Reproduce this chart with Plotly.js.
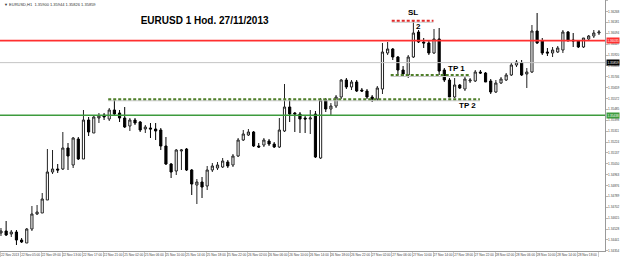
<!DOCTYPE html>
<html><head><meta charset="utf-8">
<script src="https://cdn.plot.ly/plotly-3.0.1.min.js"></script>
<style>html,body{margin:0;padding:0;background:#fff}#chart{width:620px;height:259px}</style>
</head><body><div id="chart"></div>
<script>
// EURUSD H1 candles (22 Nov 2013 - 28 Nov 2013)
const openP = [1.34496,1.34512,1.34488,1.34504,1.34440,1.34416,1.34528,1.34648,1.34656,1.34760,
1.34984,1.35008,1.35008,1.35176,1.35040,1.35248,1.35088,1.35400,1.35296,1.35416,
1.35440,1.35408,1.35480,1.35456,1.35416,1.35352,1.35400,1.35384,1.35328,1.35336,
1.35328,1.35320,1.35192,1.35048,1.34992,1.35152,1.35168,1.35000,1.34880,1.34904,
1.34872,1.35000,1.35016,1.35024,1.35064,1.35040,1.35112,1.35240,1.35280,1.35304,
1.35192,1.35200,1.35232,1.35208,1.35184,1.35312,1.35504,1.35456,1.35448,1.35416,
1.35408,1.35448,1.35096,1.35560,1.35488,1.35512,1.35584,1.35720,1.35664,1.35704,
1.35640,1.35632,1.35584,1.35568,1.35648,1.35936,1.35968,1.35904,1.35800,1.35760,
1.35904,1.36104,1.36024,1.36016,1.35936,1.36048,1.35800,1.35720,1.35584,1.35680,
1.35648,1.35712,1.35712,1.35784,1.35776,1.35712,1.35624,1.35696,1.35720,1.35760,
1.35840,1.35856,1.35768,1.35784,1.36112,1.36032,1.35944,1.35936,1.35944,1.35960,
1.36104,1.36040,1.36032,1.35984,1.36048,1.36072,1.36096];
const highP = [1.34536,1.34592,1.34520,1.34520,1.34456,1.34536,1.34712,1.34720,1.34816,1.35168,
1.35160,1.35048,1.35304,1.35216,1.35264,1.35264,1.35480,1.35424,1.35440,1.35456,
1.35456,1.35496,1.35560,1.35480,1.35504,1.35416,1.35416,1.35392,1.35360,1.35376,
1.35376,1.35336,1.35264,1.35056,1.35168,1.35168,1.35176,1.35008,1.34928,1.34944,
1.35032,1.35056,1.35064,1.35096,1.35080,1.35128,1.35256,1.35320,1.35328,1.35312,
1.35216,1.35256,1.35248,1.35224,1.35416,1.35688,1.35576,1.35464,1.35464,1.35432,
1.35480,1.35472,1.35576,1.35576,1.35536,1.35600,1.35728,1.35736,1.35720,1.35720,
1.35656,1.35648,1.35600,1.35672,1.36016,1.36024,1.35976,1.35912,1.35832,1.35920,
1.36192,1.36120,1.36056,1.36040,1.36128,1.36136,1.35816,1.35736,1.35736,1.35688,
1.35744,1.35736,1.35800,1.35800,1.35784,1.35728,1.35720,1.35744,1.35776,1.35856,
1.35880,1.35880,1.35816,1.36160,1.36256,1.36056,1.35976,1.35984,1.35992,1.36120,
1.36112,1.36096,1.36040,1.36056,1.36080,1.36120,1.36120];
const lowP = [1.34472,1.34472,1.34464,1.34400,1.34416,1.34416,1.34512,1.34640,1.34656,1.34760,
1.34968,1.34976,1.35000,1.35000,1.35016,1.35080,1.35088,1.35272,1.35296,1.35376,
1.35400,1.35392,1.35440,1.35384,1.35336,1.35312,1.35360,1.35304,1.35296,1.35256,
1.35240,1.35160,1.35040,1.34936,1.34960,1.35000,1.34992,1.34800,1.34728,1.34776,
1.34840,1.34984,1.35000,1.35016,1.35016,1.35024,1.35104,1.35232,1.35272,1.35184,
1.35176,1.35184,1.35192,1.35176,1.35176,1.35304,1.35384,1.35304,1.35296,1.35296,
1.35288,1.35096,1.35088,1.35464,1.35432,1.35496,1.35568,1.35648,1.35640,1.35624,
1.35624,1.35568,1.35544,1.35552,1.35608,1.35920,1.35880,1.35760,1.35744,1.35736,
1.35896,1.36016,1.35976,1.35920,1.35928,1.35760,1.35704,1.35584,1.35576,1.35648,
1.35632,1.35696,1.35704,1.35768,1.35704,1.35608,1.35616,1.35688,1.35712,1.35752,
1.35824,1.35752,1.35656,1.35776,1.36008,1.35920,1.35912,1.35904,1.35936,1.35936,
1.36032,1.35984,1.35976,1.35976,1.36040,1.36056,1.36080];
const closeP = [1.34512,1.34480,1.34504,1.34440,1.34424,1.34528,1.34648,1.34664,1.34768,1.34984,
1.35008,1.35000,1.35176,1.35112,1.35256,1.35088,1.35400,1.35304,1.35424,1.35432,
1.35424,1.35480,1.35448,1.35416,1.35344,1.35400,1.35376,1.35320,1.35344,1.35328,
1.35312,1.35192,1.35048,1.34984,1.35160,1.35160,1.35000,1.34888,1.34904,1.34864,
1.35000,1.35032,1.35040,1.35072,1.35032,1.35112,1.35240,1.35288,1.35304,1.35192,
1.35184,1.35240,1.35208,1.35184,1.35320,1.35504,1.35448,1.35448,1.35408,1.35408,
1.35416,1.35104,1.35560,1.35488,1.35512,1.35584,1.35720,1.35664,1.35704,1.35632,
1.35632,1.35584,1.35568,1.35656,1.35944,1.35968,1.35904,1.35800,1.35768,1.35904,
1.36096,1.36024,1.36016,1.35936,1.36048,1.35792,1.35720,1.35584,1.35680,1.35656,
1.35728,1.35720,1.35784,1.35776,1.35704,1.35624,1.35696,1.35728,1.35760,1.35840,
1.35864,1.35760,1.35784,1.36112,1.36016,1.35936,1.35936,1.35960,1.35976,1.36104,
1.36032,1.36032,1.35984,1.36056,1.36072,1.36096,1.36104];

// time axis labels (one every 4 bars)
const timeLabels = ["22 Nov 2013","22 Nov 05:00","22 Nov 09:00","22 Nov 13:00","22 Nov 17:00","22 Nov 21:00",
"25 Nov 02:00","25 Nov 06:00","25 Nov 10:00","25 Nov 14:00","25 Nov 18:00","25 Nov 22:00",
"26 Nov 02:00","26 Nov 06:00","26 Nov 10:00","26 Nov 14:00","26 Nov 18:00","26 Nov 22:00",
"27 Nov 02:00","27 Nov 06:00","27 Nov 10:00","27 Nov 14:00","27 Nov 18:00","27 Nov 22:00",
"28 Nov 02:00","28 Nov 06:00","28 Nov 10:00","28 Nov 14:00","28 Nov 18:00","28 Nov 22:00"];

// horizontal levels
const resistance = 1.36035;   // red line
const support = 1.35438;      // green line
const bidPrice = 1.35859;     // grey bid line
// dashed trade levels: name, price, start bar, end bar
const tradeNames = ["SL","TP 1","TP 2"];
const tradePrice = [1.36194, 1.35760, 1.35566];
const tradeStart = [75.8, 75.6, 20.8];
const tradeEnd = [83.9, 91.0, 92.9];
const tradeColor = ["#e02828","#4f7f2a","#4f7f2a"];

const idx = openP.map((_, i) => i);
const traces = [{
  type: 'candlestick', x: idx, open: openP, high: highP, low: lowP, close: closeP,
  increasing: {line: {color: '#222', width: 1}, fillcolor: '#ffffff'},
  decreasing: {line: {color: '#000', width: 1}, fillcolor: '#000000'},
  whiskerwidth: 0, hoverinfo: 'skip', showlegend: false
}];

const shapes = [
  {type:'line', xref:'paper', x0:0, x1:1, yref:'y', y0:bidPrice, y1:bidPrice, line:{color:'#c4c4c4', width:1}},
  {type:'line', xref:'paper', x0:0, x1:1, yref:'y', y0:resistance, y1:resistance, line:{color:'#ff3030', width:1.6}},
  {type:'line', xref:'paper', x0:0, x1:1, yref:'y', y0:support, y1:support, line:{color:'#3d9b3d', width:1.6}}
];
tradeNames.forEach((n, i) => {
  shapes.push({type:'line', xref:'x', yref:'y', x0:tradeStart[i], x1:tradeEnd[i], y0:tradePrice[i]-0.00012, y1:tradePrice[i]-0.00012, line:{color:'#c8c8c8', width:1}});
  shapes.push({type:'line', xref:'x', yref:'y', x0:tradeStart[i], x1:tradeEnd[i], y0:tradePrice[i], y1:tradePrice[i], line:{color:tradeColor[i], width:1.8, dash:'3px,2px'}});
});

const lblFont = {family:'Liberation Sans, Arial, sans-serif', size:8, color:'#000'};
const boxFont = {family:'Liberation Sans, Arial', size:3.1, color:'#fff'};
const annotations = [
  {text:'<b>SL</b>', x:79.9, y:1.36262, xref:'x', yref:'y', showarrow:false, font:lblFont},
  {text:'<b>2</b>', x:81.0, y:1.36146, xref:'x', yref:'y', showarrow:false, font:lblFont},
  {text:'<b>TP 1</b>', x:88.4, y:1.35812, xref:'x', yref:'y', showarrow:false, font:lblFont},
  {text:'<b>TP 2</b>', x:90.5, y:1.35516, xref:'x', yref:'y', showarrow:false, font:lblFont},
  {text:'▼ EURUSD,H1  1.35900 1.35944 1.35826 1.35859', x:0.003, y:1, xref:'paper', yref:'paper', xanchor:'left', yanchor:'top', showarrow:false, font:{family:'Liberation Sans, Arial', size:4, color:'#333'}},
  {text:resistance.toFixed(5), x:1, y:resistance, xref:'paper', yref:'y', xanchor:'left', xshift:0.5, showarrow:false, bgcolor:'#ff3030', borderpad:0.5, font:boxFont},
  {text:bidPrice.toFixed(5), x:1, y:bidPrice, xref:'paper', yref:'y', xanchor:'left', xshift:0.5, showarrow:false, bgcolor:'#000', borderpad:0.5, font:boxFont},
  {text:support.toFixed(5), x:1, y:support, xref:'paper', yref:'y', xanchor:'left', xshift:0.5, showarrow:false, bgcolor:'#3d9b3d', borderpad:0.5, font:boxFont}
];

const layout = {
  width: 620, height: 259,
  margin: {l:0, r:15, t:0, b:8, pad:0},
  paper_bgcolor:'#fff', plot_bgcolor:'#fff',
  title: {text:'<b>EURUSD 1 Hod. 27/11/2013</b>', x:0.33, xref:'container', y:0.922, yref:'container', xanchor:'center', yanchor:'middle',
          font:{family:'Liberation Sans, Arial, sans-serif', size:10, color:'#000'}},
  showlegend:false,
  boxgap: 0.4,
  xaxis: {
    range:[-0.19, 117.17], rangeslider:{visible:false}, showgrid:false, zeroline:false,
    showline:true, linecolor:'#9a9a9a', linewidth:1, mirror:true, automargin:false,
    tickmode:'array', tickvals: timeLabels.map((_, k) => 4*k + 1.75), ticktext: timeLabels,
    tickangle:0, ticks:'', ticklabelstandoff:0, tickfont:{family:'Liberation Sans, Arial', size:3.2, color:'#444'},
    minor:{tickmode:'linear', tick0:3.85, dtick:4, ticks:'outside', ticklen:5, tickcolor:'#aaa', tickwidth:0.6, showgrid:false},
    fixedrange:true
  },
  yaxis: {
    side:'right', range:[1.34352, 1.36360], showgrid:false, zeroline:false, automargin:false,
    showline:true, linecolor:'#9a9a9a', linewidth:1,
    tickmode:'linear', tick0:1.34354, dtick:0.00087, tickformat:'.5f',
    ticks:'outside', ticklen:1.5, tickcolor:'#888', tickwidth:0.6, ticklabelstandoff:0,
    tickfont:{family:'Liberation Sans, Arial', size:3.1, color:'#444'},
    fixedrange:true
  },
  shapes: shapes,
  annotations: annotations
};

Plotly.newPlot('chart', traces, layout, {staticPlot:true, displayModeBar:false});
</script></body></html>
